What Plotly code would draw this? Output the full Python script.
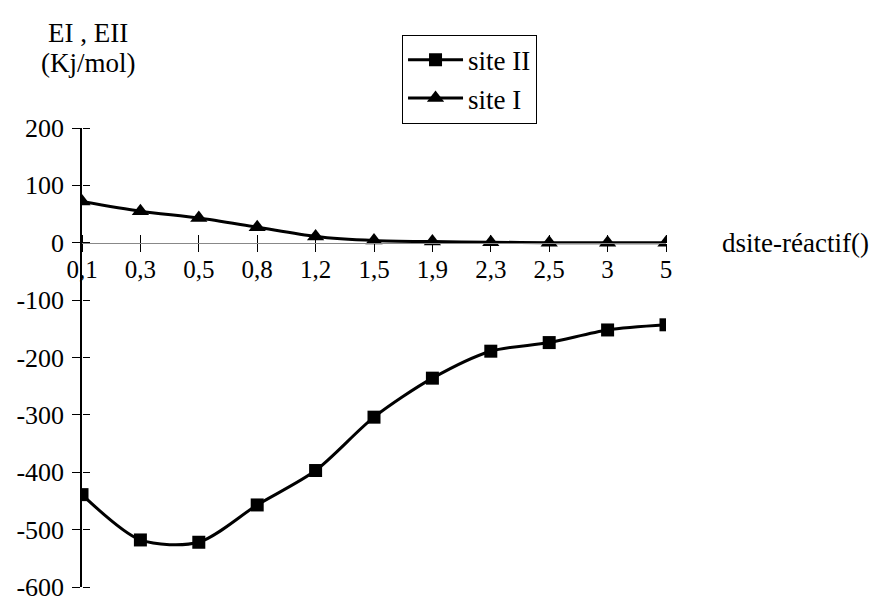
import plotly.graph_objects as go

categories = ["0,1", "0,3", "0,5", "0,8", "1,2", "1,5", "1,9", "2,3", "2,5", "3", "5"]
site_II = [-439, -518, -522, -457, -397, -304, -236, -189, -174, -152, -143]
site_I = [72, 55, 43, 27, 11, 4, 2, 1, 0, 0, 0]
y_ticks = [200, 100, 0, -100, -200, -300, -400, -500, -600]
y_tick_labels = ["200", "100", "0", "-100", "-200", "-300", "-400", "-500", "-600"]

FONT = "Liberation Serif"

fig = go.Figure()
fig.add_trace(go.Scatter(
    x=categories, y=site_II, name="site II", mode="lines+markers",
    line=dict(color="black", width=3, shape="spline", smoothing=0.8),
    marker=dict(symbol="square", size=13, color="black"),
))
fig.add_trace(go.Scatter(
    x=categories, y=site_I, name="site I", mode="lines+markers",
    line=dict(color="black", width=3, shape="spline", smoothing=0.8),
    marker=dict(symbol="triangle-up", size=15, color="black"),
))

n = len(categories)
fig.update_layout(
    width=873, height=596,
    margin=dict(l=82, r=207, t=128, b=9, autoexpand=False),
    paper_bgcolor="white", plot_bgcolor="white",
    font=dict(family=FONT, size=25, color="black"),
    showlegend=True,
    legend=dict(
        x=0.548, y=1.203, xanchor="left", yanchor="top",
        bordercolor="black", borderwidth=1, bgcolor="white",
        font=dict(family=FONT, size=27, color="black"),
        itemwidth=55, tracegroupgap=0,
    ),
    xaxis=dict(
        type="category", categoryorder="array", categoryarray=categories,
        range=[0, n - 1], anchor="free", position=0.75, automargin=False,
        showline=True, linecolor="#888888", linewidth=1,
        ticks="outside", ticklen=8, tickcolor="black", tickwidth=1,
        showgrid=False, zeroline=False,
        tickfont=dict(family=FONT, size=25, color="black"),
        ticklabelstandoff=-4, ticklabeloverflow="allow",
    ),
    xaxis2=dict(
        overlaying="x", range=[0, n - 1], anchor="free", position=0.75,
        side="top", tickvals=list(range(n)), showticklabels=False, automargin=False,
        ticks="outside", ticklen=8, tickcolor="black", tickwidth=1,
        showline=False, showgrid=False, zeroline=False,
    ),
    yaxis=dict(
        range=[-600, 200], tickvals=y_ticks, ticktext=y_tick_labels, automargin=False,
        showline=True, linecolor="black", linewidth=1.5,
        ticks="outside", ticklen=8, tickcolor="black", tickwidth=1,
        showgrid=False, zeroline=False,
        tickfont=dict(family=FONT, size=26, color="black"),
        ticklabelstandoff=3, ticklabeloverflow="allow",
    ),
    yaxis2=dict(
        overlaying="y", range=[-600, 200], tickvals=y_ticks, automargin=False,
        side="right", anchor="free", position=0,
        showticklabels=False, ticks="outside", ticklen=7,
        tickcolor="black", tickwidth=1,
        showline=False, showgrid=False, zeroline=False,
    ),
    annotations=[
        dict(text="EI , EII", xref="paper", yref="paper",
             x=0.011, y=1.208, xanchor="center", yanchor="middle", showarrow=False,
             font=dict(family=FONT, size=27, color="black")),
        dict(text="(Kj/mol)", xref="paper", yref="paper",
             x=0.011, y=1.142, xanchor="center", yanchor="middle", showarrow=False,
             font=dict(family=FONT, size=27, color="black")),
        dict(text="dsite-réactif()", xref="paper", yref="y",
             x=1.092, y=0, xanchor="left", yanchor="middle", showarrow=False,
             font=dict(family=FONT, size=27, color="black")),
    ],
)
# invisible helper trace so the overlay axes render
fig.add_trace(go.Scatter(x=[0], y=[None], xaxis="x2", yaxis="y2",
                         showlegend=False, hoverinfo="skip"))

fig.write_html(
    "out.html",
    config={"displayModeBar": False},
    post_script="document.body.style.margin='0';document.body.style.overflow='hidden';",
)
